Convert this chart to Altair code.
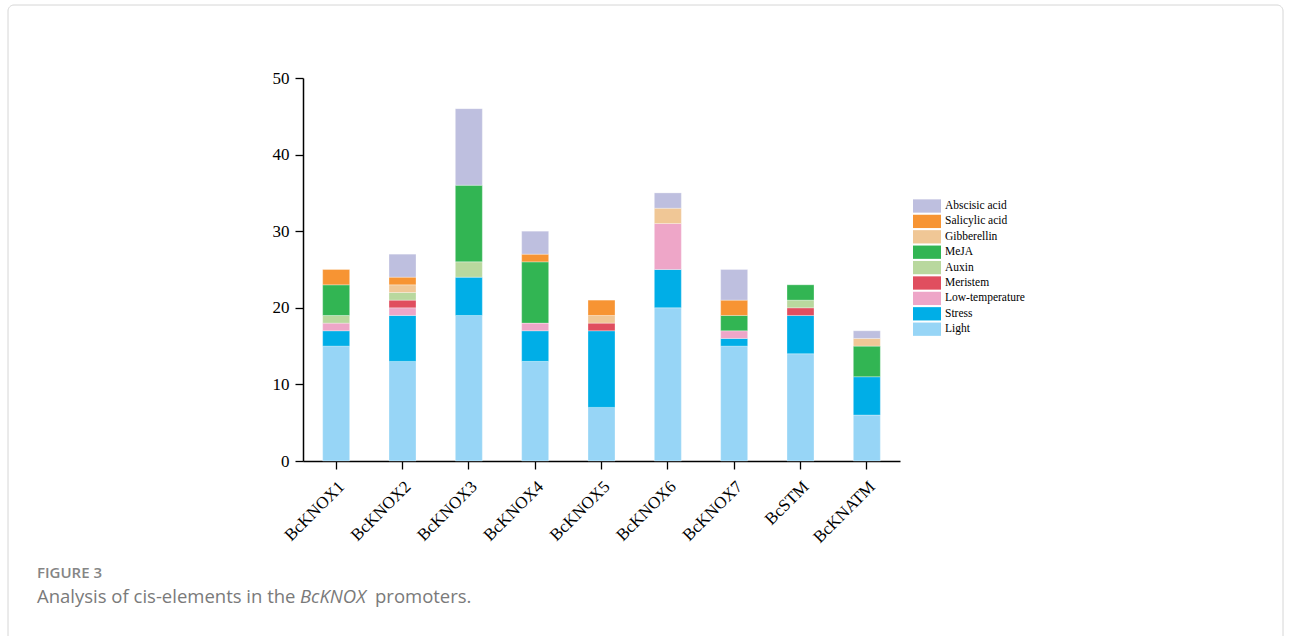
import altair as alt
import pandas as pd

genes = ["BcKNOX1", "BcKNOX2", "BcKNOX3", "BcKNOX4", "BcKNOX5", "BcKNOX6", "BcKNOX7", "BcSTM", "BcKNATM"]
light = [15, 13, 19, 13, 7, 20, 15, 14, 6]
stress = [2, 6, 5, 4, 10, 5, 1, 5, 5]
low_temp = [1, 1, 0, 1, 0, 6, 1, 0, 0]
meristem = [0, 1, 0, 0, 1, 0, 0, 1, 0]
auxin = [1, 1, 2, 0, 0, 0, 0, 1, 0]
meja = [4, 0, 10, 8, 0, 0, 2, 2, 4]
gibberellin = [0, 1, 0, 0, 1, 2, 0, 0, 1]
salicylic = [2, 1, 0, 1, 2, 0, 2, 0, 0]
abscisic = [0, 3, 10, 3, 0, 2, 4, 0, 1]

series = ["Light", "Stress", "Low-temperature", "Meristem", "Auxin", "MeJA",
          "Gibberellin", "Salicylic acid", "Abscisic acid"]
values = [light, stress, low_temp, meristem, auxin, meja, gibberellin, salicylic, abscisic]
colors = ["#97D5F6", "#00AEE7", "#EEA6C8", "#E04E5F", "#B9D89E", "#32B553",
          "#F0C796", "#F79433", "#BEBFDF"]

rows = []
for k, (s, vals) in enumerate(zip(series, values)):
    for g, v in zip(genes, vals):
        if v > 0:
            rows.append({"gene": g, "type": s, "count": v, "rank": k})
df = pd.DataFrame(rows)

serif = "Liberation Serif"

bars = alt.Chart(df).mark_bar(size=27, stroke="white", strokeWidth=0.5, strokeOpacity=0.6).encode(
    x=alt.X("gene:N", sort=genes, title=None,
            scale=alt.Scale(paddingInner=0, paddingOuter=0),
            axis=alt.Axis(labelAngle=-45, labelAlign="right", labelBaseline="top",
                          labelFont=serif, labelFontSize=17, labelColor="black",
                          labelPadding=9, tickSize=8, tickColor="black", tickWidth=1.3,
                          domainColor="black", domainWidth=1.5)),
    y=alt.Y("count:Q", stack="zero", title=None,
            scale=alt.Scale(domain=[0, 50], nice=False),
            axis=alt.Axis(values=[0, 10, 20, 30, 40, 50], labelFont=serif, labelFontSize=17,
                          labelColor="black", tickSize=8, tickColor="black", tickWidth=1.3,
                          domainColor="black", domainWidth=1.5, grid=False, labelPadding=6)),
    color=alt.Color("type:N",
                    scale=alt.Scale(domain=series[::-1], range=colors[::-1]),
                    legend=alt.Legend(title=None, orient="none", legendX=617, legendY=121,
                                      symbolType="M-2,-0.95L2,-0.95L2,0.95L-2,0.95Z",
                                      symbolSize=196, symbolStrokeWidth=0,
                                      symbolOpacity=1, labelFont=serif, labelFontSize=11.5,
                                      labelColor="black", rowPadding=1.4, labelOffset=11,
                                      labelLimit=200)),
    order=alt.Order("rank:Q", sort="ascending"),
)

frame = alt.Chart(pd.DataFrame({"a": [0]})).mark_rect(
    fill=None, stroke="#d6d6d6", strokeWidth=1, cornerRadius=6
).encode(x=alt.value(-295), x2=alt.value(980), y=alt.value(-73), y2=alt.value(600))

cap_font = "Open Sans"
cap1 = alt.Chart(pd.DataFrame({"t": ["FIGURE 3"]})).mark_text(
    align="left", baseline="middle", font=cap_font, fontSize=15, fontWeight=600, color="#858585"
).encode(text="t:N", x=alt.value(-266), y=alt.value(495))
cap2 = alt.Chart(pd.DataFrame({"t": ["Analysis of cis-elements in the"]})).mark_text(
    align="left", baseline="middle", font=cap_font, fontSize=18.5, color="#7a7a7a"
).encode(text="t:N", x=alt.value(-266), y=alt.value(519))
cap3 = alt.Chart(pd.DataFrame({"t": ["BcKNOX"]})).mark_text(
    align="left", baseline="middle", font=cap_font, fontSize=18.5, fontStyle="italic", color="#7a7a7a"
).encode(text="t:N", x=alt.value(-3), y=alt.value(519))
cap4 = alt.Chart(pd.DataFrame({"t": ["promoters."]})).mark_text(
    align="left", baseline="middle", font=cap_font, fontSize=18.5, color="#7a7a7a"
).encode(text="t:N", x=alt.value(72), y=alt.value(519))

chart = alt.layer(frame, bars, cap1, cap2, cap3, cap4).properties(
    width=597, height=383,
    padding={"left": 303, "top": 78, "right": 391, "bottom": 175},
    autosize=alt.AutoSizeParams(type="none"),
    background="white",
).configure_view(stroke="transparent", strokeWidth=0)

chart.save("out.html", embed_options={"renderer": "svg", "actions": False})
